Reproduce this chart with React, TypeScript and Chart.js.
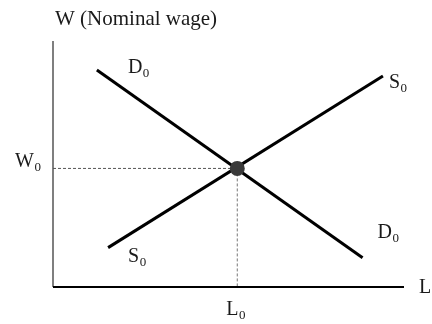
import React, { useEffect, useRef } from "react";
import { Chart, registerables } from "chart.js";

Chart.register(...registerables);

// Data (arbitrary units, 0..100 on both axes)
const demandLine = [
  { x: 12.5, y: 88.2 },
  { x: 88.2, y: 11.9 },
];
const supplyLine = [
  { x: 15.7, y: 16.0 },
  { x: 94.0, y: 85.8 },
];
const equilibrium = { x: 52.5, y: 48.2 };
const axisMax = 100;

const yAxisTitle = "W (Nominal wage)";
const xAxisTitle = "L";
const demandLabel = ["D", "0"];
const supplyLabel = ["S", "0"];
const wageLabel = ["W", "0"];
const laborLabel = ["L", "0"];

const FONT = '"Liberation Serif", "Times New Roman", serif';

function drawSub(
  ctx: CanvasRenderingContext2D,
  parts: string[],
  x: number,
  baseline: number,
  size = 20
) {
  ctx.font = `${size}px ${FONT}`;
  ctx.fillText(parts[0], x, baseline);
  const w = ctx.measureText(parts[0]).width;
  if (parts[1]) {
    ctx.font = `${Math.round(size * 0.66)}px ${FONT}`;
    ctx.fillText(parts[1], x + w + 0.5, baseline + 4);
  }
}

const labelPlugin = {
  id: "econLabels",
  afterDraw(chart: any) {
    const ctx = chart.ctx as CanvasRenderingContext2D;
    const xs = chart.scales.x;
    const ys = chart.scales.y;
    const px = (v: number) => xs.getPixelForValue(v);
    const py = (v: number) => ys.getPixelForValue(v);
    ctx.save();
    ctx.fillStyle = "#1a1a1a";
    ctx.textAlign = "left";
    ctx.textBaseline = "alphabetic";
    // axis titles
    ctx.font = `21px ${FONT}`;
    ctx.fillText(yAxisTitle, px(0) + 2, py(axisMax) - 16);
    ctx.font = `20px ${FONT}`;
    ctx.fillText(xAxisTitle, px(axisMax) + 15, py(0) + 6);
    // curve labels
    drawSub(ctx, demandLabel, px(demandLine[0].x) + 31, py(demandLine[0].y) + 3);
    drawSub(ctx, demandLabel, px(demandLine[1].x) + 15, py(demandLine[1].y) - 20);
    drawSub(ctx, supplyLabel, px(supplyLine[1].x) + 6, py(supplyLine[1].y) + 12);
    drawSub(ctx, supplyLabel, px(supplyLine[0].x) + 20, py(supplyLine[0].y) + 14);
    // equilibrium labels
    drawSub(ctx, wageLabel, px(0) - 38, py(equilibrium.y) - 1);
    drawSub(ctx, laborLabel, px(equilibrium.x) - 11, py(0) + 28);
    ctx.restore();
  },
};

export default function App() {
  const ref = useRef<HTMLCanvasElement>(null);
  useEffect(() => {
    if (!ref.current) return;
    const line = (data: any[], color: string, width: number, dash: number[] = []) => ({
      data,
      showLine: true,
      borderColor: color,
      borderWidth: width,
      borderDash: dash,
      pointRadius: 0,
      pointHoverRadius: 0,
      fill: false,
      clip: false as any,
    });
    const chart = new Chart(ref.current, {
      type: "scatter",
      data: {
        datasets: [
          {
            data: [equilibrium],
            pointRadius: 7.5,
            pointBackgroundColor: "#3a3a3a",
            pointBorderColor: "#3a3a3a",
            pointBorderWidth: 0,
            clip: false as any,
          },
          line(demandLine, "#000", 3),
          line(supplyLine, "#000", 3),
          line([{ x: 0, y: 0 }, { x: axisMax, y: 0 }], "#000", 2),
          line([{ x: 0, y: 0 }, { x: 0, y: axisMax }], "#555", 1.5),
          line([{ x: 0, y: equilibrium.y }, { x: equilibrium.x, y: equilibrium.y }], "#555", 1, [3, 2]),
          line([{ x: equilibrium.x, y: equilibrium.y }, { x: equilibrium.x, y: 0 }], "#777", 1, [3, 2]),
        ] as any,
      },
      options: {
        animation: false,
        responsive: false,
        maintainAspectRatio: false,
        layout: { padding: { left: 53, right: 28, top: 41, bottom: 37 } },
        plugins: { legend: { display: false }, tooltip: { enabled: false } },
        scales: {
          x: { type: "linear", min: 0, max: axisMax, display: false },
          y: { type: "linear", min: 0, max: axisMax, display: false },
        },
        events: [],
      },
      plugins: [labelPlugin],
    });
    return () => chart.destroy();
  }, []);
  return (
    <div style={{ position: "fixed", left: 0, top: 0, width: 432, height: 324, background: "#fff" }}>
      <canvas ref={ref} width={432} height={324} style={{ width: 432, height: 324 }} />
    </div>
  );
}
